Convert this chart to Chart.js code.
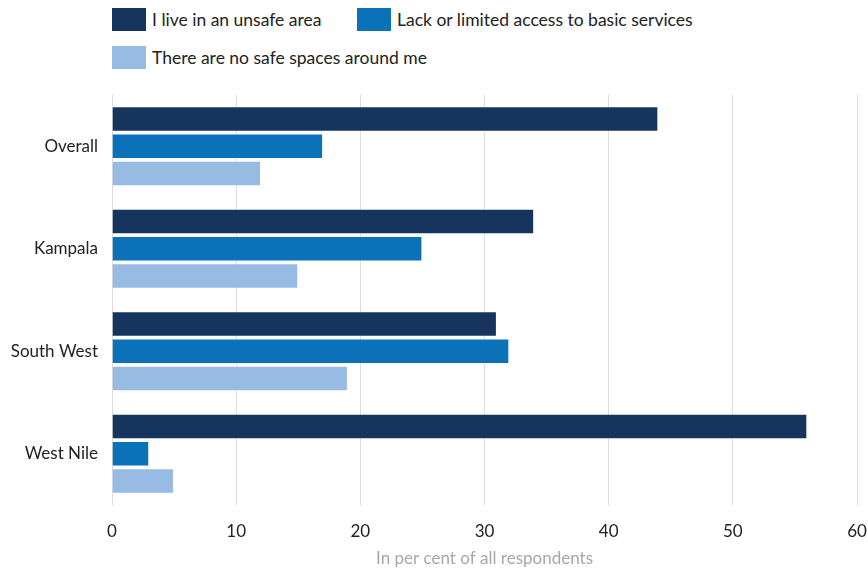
<!DOCTYPE html>
<html>
<head>
<meta charset="utf-8">
<script src="https://cdn.jsdelivr.net/npm/chart.js@4/dist/chart.umd.min.js"></script>
<style>
  html, body { margin: 0; padding: 0; background: #fff; }
  body { width: 868px; height: 571px; position: relative; overflow: hidden; font-family: Lato, "Open Sans", sans-serif; }
  #legend { position: absolute; left: 112px; top: 8px; width: 740px; font-size: 17.5px; color: #222; }
  .item { position: absolute; display: flex; align-items: center; white-space: nowrap; }
  .box { width: 34px; height: 23px; margin-right: 6px; }
  canvas { position: absolute; left: 0; top: 0; }
</style>
</head>
<body>
<div id="legend"></div>
<canvas id="chart" width="868" height="571"></canvas>
<script>
// регионы и доли респондентов (%)
const regions = ["Overall", "Kampala", "South West", "West Nile"];
const unsafeArea = [44, 34, 31, 56];
const noServices = [17, 25, 32, 3];
const noSafeSpaces = [12, 15, 19, 5];
const seriesNames = [
  "I live in an unsafe area",
  "Lack or limited access to basic services",
  "There are no safe spaces around me",
];
const seriesColors = ["#16355e", "#0b72b9", "#97bbe2"];
const xTicks = [0, 10, 20, 30, 40, 50, 60];

const FONT = "Lato, 'Open Sans', sans-serif";

// легенда html – две строки, выровнены влево
const legendPos = [[0, 0], [245, 0], [0, 38]];
const legend = document.getElementById("legend");
seriesNames.forEach((name, i) => {
  const el = document.createElement("div");
  el.className = "item";
  el.style.left = legendPos[i][0] + "px";
  el.style.top = legendPos[i][1] + "px";
  el.innerHTML = `<span class="box" style="background:${seriesColors[i]}"></span><span>${name}</span>`;
  legend.appendChild(el);
});

const datasets = [unsafeArea, noServices, noSafeSpaces].map((data, i) => ({
  label: seriesNames[i],
  data,
  backgroundColor: seriesColors[i],
  borderColor: "rgba(255,255,255,0.35)",
  borderWidth: 1,
  categoryPercentage: 0.8,
  barPercentage: 0.93,
}));

new Chart(document.getElementById("chart"), {
  type: "bar",
  data: { labels: regions, datasets },
  options: {
    indexAxis: "y",
    responsive: false,
    animation: false,
    layout: { padding: { top: 95, right: 0, bottom: 0, left: 0 } },
    plugins: {
      legend: { display: false },
      tooltip: { enabled: false },
    },
    scales: {
      x: {
        min: 0,
        max: 60,
        afterBuildTicks: (scale) => { scale.ticks = xTicks.map((v) => ({ value: v })); },
        afterFit: (scale) => { scale.height = 66; scale.paddingRight = 11; },
        grid: { color: "#dcdcdc", lineWidth: 1, drawTicks: false },
        border: { display: false },
        ticks: { color: "#222", font: { family: FONT, size: 17 }, padding: 16 },
        title: {
          display: true,
          text: "In per cent of all respondents",
          color: "#a8a8a8",
          font: { family: FONT, size: 17 },
          padding: { top: 0, bottom: 2 },
        },
      },
      y: {
        afterFit: (scale) => { scale.width = 112; },
        grid: { display: false, drawTicks: false },
        border: { display: false },
        ticks: { color: "#222", font: { family: FONT, size: 17 }, padding: 14 },
      },
    },
  },
});
</script>
</body>
</html>
